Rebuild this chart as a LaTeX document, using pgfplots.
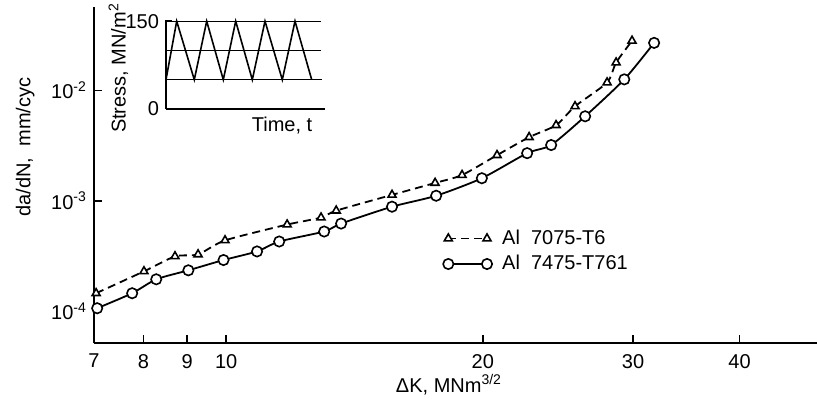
\documentclass[border=0pt]{standalone}
\usepackage{fontspec}
\setmainfont{Liberation Sans}
\usepackage{pgfplots}
\pgfplotsset{compat=1.18}
\begin{document}
\fontsize{10}{12}\selectfont
\begin{tikzpicture}
\begin{axis}[
  scale only axis, width=361.5pt, height=168pt,
  xmode=log, ymode=log,
  xmin=7, xmax=49.3, ymin=5.13e-5, ymax=0.0571,
  axis lines=left, axis line style={-, line width=1pt},
  xtick={7,8,9,10,20,30,40}, xticklabels={7,8,9,10,20,30,40},
  ytick={1e-4,1e-3,1e-2},
  yticklabels={10\textsuperscript{-4},10\textsuperscript{-3},10\textsuperscript{-2}},
  xminorticks=false, yminorticks=false,
  tick align=inside, major tick length=4pt, tick style={line width=0.8pt, black},
  xticklabel style={yshift=-2pt},
  xlabel={ΔK, MNm\textsuperscript{3/2}},
  xlabel style={at={(axis description cs:0.491,-0.124)}, anchor=center},
  ylabel={da/dN,\ \ mm/cyc},
  ylabel style={at={(axis description cs:-0.095,0.583)}, anchor=center},
  clip=false,
  legend style={at={(axis description cs:0.474,0.362)}, anchor=north west, draw=none, fill=none, row sep=0pt, column sep=3pt},
  legend cell align=left,
  legend image code/.code={\draw[mark repeat=1,#1] plot coordinates {(0cm,0cm) (0.68cm,0cm)};},
]
\addplot[black, line width=0.9pt, dash pattern=on 4pt off 2.5pt, smooth, tension=0.4,
  mark=triangle*, mark size=2.3pt, mark options={solid, fill=white, draw=black, line width=0.8pt}]
coordinates {
(7.04,1.45e-4) (8.01,2.29e-4) (8.71,3.13e-4) (9.27,3.26e-4) (9.97,4.37e-4)
(11.79,6.08e-4) (12.92,7.03e-4) (13.46,8.13e-4) (15.65,1.13e-3) (17.58,1.45e-3)
(18.91,1.71e-3) (20.78,2.59e-3) (22.66,3.77e-3) (24.37,4.84e-3) (25.65,7.18e-3)
(27.97,1.18e-2) (28.66,1.79e-2) (29.92,2.82e-2)
};
\addlegendentry{Al\ \ 7075-T6}
\addplot[black, line width=0.9pt, smooth, tension=0.4,
  mark=*, mark size=2.6pt, mark options={solid, fill=white, draw=black, line width=0.8pt}]
coordinates {
(7.06,1.06e-4) (7.76,1.45e-4) (8.28,1.94e-4) (9.03,2.34e-4) (9.93,2.90e-4)
(10.87,3.47e-4) (11.54,4.27e-4) (13.03,5.26e-4) (13.64,6.21e-4) (15.65,8.83e-4)
(17.63,1.11e-3) (19.95,1.60e-3) (22.54,2.70e-3) (24.05,3.20e-3) (26.36,5.83e-3)
(29.3,1.26e-2) (31.76,2.70e-2)
};
\addlegendentry{Al\ \ 7475-T761}
\end{axis}
\begin{axis}[
  at={(36pt,117pt)}, anchor=south west,
  scale only axis, width=79.5pt, height=44.5pt,
  xmin=0, xmax=159, ymin=0, ymax=152,
  axis lines=left, axis line style={-, line width=1pt},
  xtick=\empty, ytick={0,150}, yticklabels={0,150},
  tick align=inside, major tick length=3pt, tick style={line width=0.8pt, black},
  ylabel={Stress, MN/m\textsuperscript{2}},
  ylabel style={at={(axis description cs:-0.30,0.46)}, anchor=center},
  xlabel={Time, t},
  xlabel style={at={(axis description cs:0.73,-0.19)}, anchor=center},
  clip=false,
]
\addplot[black, line width=0.6pt] coordinates {(0,50) (156,50)};
\addplot[black, line width=0.6pt] coordinates {(0,100) (155,100)};
\addplot[black, line width=0.6pt] coordinates {(0,150) (155,150)};
\addplot[black, line width=0.8pt] coordinates {
(0,50) (10.7,150) (28.3,50) (40.7,150) (57.3,50) (69.7,150) (86.3,50) (99,150) (116.3,50) (129,150) (145.7,50)
};
\end{axis}
\pgfresetboundingbox
\useasboundingbox (-47pt,-33.5pt) rectangle (361.5pt,171.5pt);
\end{tikzpicture}
\end{document}
